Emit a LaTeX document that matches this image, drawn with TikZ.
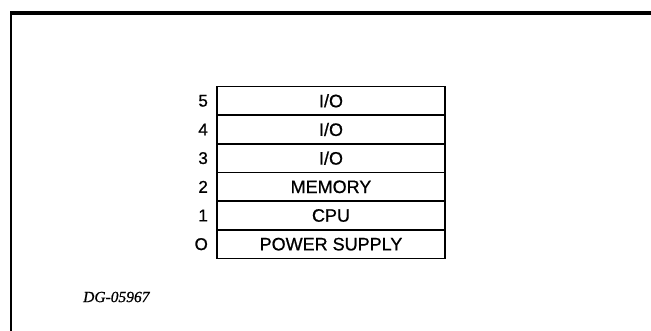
\documentclass[tikz,border=0pt]{standalone}
\usepackage{fontspec}
\setsansfont{Liberation Sans}[FakeBold=0.8]
\newfontfamily\tagfont{Liberation Serif}[FakeBold=1]

\begin{document}
\begin{tikzpicture}[
    x=1pt, y=-1pt,
    slot/.style={draw, line width=1.9pt, minimum width=228pt, minimum height=28.7pt,
                 inner sep=0pt, font=\sffamily\fontsize{18}{21}\selectfont}, % chassis slots
    slotnum/.style={font=\sffamily\fontsize{17}{20}\selectfont, inner sep=2pt} % slot numbers
]

    % Page size and frame
    \useasboundingbox (0,0) rectangle (651,331);
    \coordinate (frame_top_left) at (10,13);
    \coordinate (frame_top_right) at (651,13);
    \coordinate (frame_bottom_left) at (11,331);
    \draw[line width=4pt] (frame_top_left) -- (frame_top_right);
    \draw[line width=2pt] ([xshift=1pt]frame_top_left) -- (frame_bottom_left);

    % Slots, bottom to top
    \foreach \n/\name in {0/{POWER SUPPLY}, 1/CPU, 2/MEMORY, 3/{I/O}, 4/{I/O}, 5/{I/O}}{
        \node[slot, label={[slotnum, label distance=6pt]left:\ifnum\n=0 O\else\n\fi}] (slot\n)
            at (331, {258.5 - 28.67*(\n+0.5)}) {\name};
    }

    % Drawing number
    \node[font=\tagfont\itshape\fontsize{15.5}{18}\selectfont, anchor=west, inner sep=0pt] (dgnum)
        at (83,297) {DG-05967};

\end{tikzpicture}
\end{document}
